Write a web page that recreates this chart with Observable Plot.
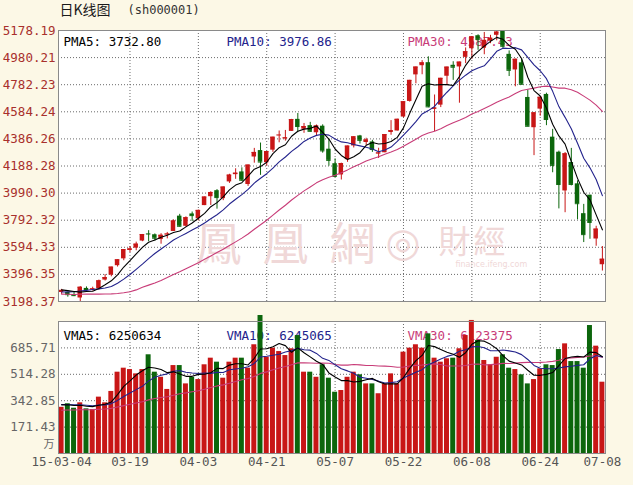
<!DOCTYPE html>
<html><head><meta charset="utf-8">
<script src="https://cdn.jsdelivr.net/npm/d3@7"></script>
<script src="https://cdn.jsdelivr.net/npm/@observablehq/plot@0.6"></script>
<style>
html,body{margin:0;padding:0;background:#fcf8e6;}
#chart{position:relative;width:633px;height:485px;overflow:hidden;background:#fcf8e6;}
#chart svg{position:absolute;left:0;display:block;}
</style></head>
<body><div id="chart"></div>
<script>
// ---- data (SSE Composite sh000001, 2015-03-04 .. 2015-07-08) ----
const opens = [3264,3264,3248,3224,3294,3284,3291,3355,3391,3460,3510,3571,3588,3640,3693,3686,3651,3686,3710,3822,3748,3838,3803,3899,3964,4008,3950,4072,4125,4145,4053,4254,4301,4212,4304,4413,4387,4441,4529,4457,4483,4431,4479,4311,4205,4123,4234,4335,4408,4360,4364,4277,4285,4433,4444,4546,4660,4854,4921,4943,4603,4633,4844,4924,4912,4982,5045,5140,5049,5100,5143,5174,5004,4890,4942,4689,4468,4604,4711,4399,4289,4006,4214,4058,3840,3975,3655,3467];
const highs = [3287,3266,3265,3307,3305,3303,3355,3395,3449,3503,3578,3600,3632,3688,3716,3692,3694,3703,3795,3835,3817,3852,3866,3961,4000,4016,4035,4128,4168,4175,4194.8,4317,4356,4293.6,4398.5,4444,4448,4529,4572,4499,4507,4488,4489,4386,4240,4209,4334,4402,4412,4391,4376,4318,4418,4520,4530,4658,4814,4911,4958,4986,4707,4829,4910.5,4950,4947.1,5051,5131.9,5147,5164,5143,5178.19,5176,5029,4969,4966,4744,4577,4691,4720,4456,4297,4287,4317,4080,3908,3975,3748,3600];
const lows = [3250,3230,3234,3198.37,3278,3275,3282,3348,3379,3450,3496,3556,3569,3635,3635,3640,3617,3656,3710,3742,3742,3783,3787,3899,3900,3873,3935,4061,4091,4076,4039,4209,4120,4188,4288,4358,4370,4441,4432,4427,4436,4404,4282,4187,4106,4086,4215,4320,4349,4339,4288,4243,4285,4413,4444,4541,4655,4789,4855,4614,4440,4615,4775,4814,4647,4936,4968,5034,5001,5082,5103,5048,4842,4767,4780,4476,4264,4552,4483,4139,3875,3847,4043,3795,3629,3653,3602,3421];
const closes = [3279.5,3248.5,3241.2,3302.4,3286.1,3290.9,3349.3,3372.9,3449.3,3502.9,3577.3,3582.3,3617.3,3687.7,3691.4,3660.7,3682.1,3691.1,3786.6,3747.9,3810.3,3825.8,3863.9,3961.4,3994.8,3957.5,4034.3,4121.7,4135.6,4084.2,4194.8,4287.3,4217.1,4293.6,4398.5,4414.5,4393.7,4527.4,4476.6,4476.2,4441.7,4480.5,4298.7,4229.3,4112.2,4205.9,4333.6,4401.2,4375.8,4378.3,4308.7,4283.5,4417.6,4446.3,4529.4,4657.6,4813.8,4910.9,4941.7,4620.3,4611.7,4828.7,4910.5,4910.0,4947.1,5023.1,5131.9,5113.5,5106.0,5121.6,5166.4,5063.0,4887.4,4967.9,4785.4,4478.4,4576.5,4690.2,4527.8,4192.9,4053.0,4277.2,4053.7,3912.8,3686.9,3775.9,3727.1,3507.2];
const ma5 = [3283,3278,3272,3267,3271.5,3273.8,3294,3320.3,3349.7,3393.1,3450.3,3496.9,3545.8,3593.5,3631.2,3647.9,3667.8,3682.6,3702.4,3713.7,3743.6,3772.3,3806.9,3841.9,3891.2,3920.7,3962.4,4013.9,4048.8,4066.7,4114.1,4164.7,4183.8,4215.4,4278.3,4322.2,4343.5,4405.5,4442.1,4457.7,4463.1,4480.5,4434.7,4385.3,4312.5,4265.3,4235.9,4256.4,4285.7,4339,4359.5,4349.5,4352.8,4366.9,4397.1,4466.9,4572.9,4671.6,4770.7,4788.9,4779.7,4782.7,4782.6,4776.2,4841.6,4923.9,4984.5,5025.1,5064.3,5099.2,5127.9,5114.1,5068.9,5041.3,4974,4836.4,4739.1,4699.7,4611.7,4493.2,4408.1,4348.2,4220.9,4097.9,3996.7,3941.3,3831.3,3722];
const ma10 = [3268,3269,3270,3275.5,3279.5,3285.7,3290.8,3297,3308.3,3332.3,3362.1,3395.5,3433.1,3471.6,3512.1,3549.1,3582.4,3614.2,3647.9,3672.4,3695.7,3720.1,3744.8,3772.1,3802.5,3832.1,3867.4,3910.4,3945.3,3979,4017.4,4063.6,4098.9,4132.1,4172.5,4218.2,4254.1,4294.7,4328.8,4368,4392.7,4412,4420.1,4413.7,4385.1,4364.2,4358.2,4345.6,4335.5,4325.7,4312.4,4292.7,4304.6,4326.3,4368,4413.2,4461.2,4512.2,4568.8,4593,4623.3,4677.8,4727.1,4773.5,4815.2,4851.8,4883.6,4903.9,4920.3,4970.4,5025.9,5049.3,5047,5052.8,5036.6,4982.2,4926.6,4884.3,4826.5,4733.6,4622.3,4543.7,4460.3,4354.8,4244.9,4174.7,4089.8,3971.5];
const ma30 = [3252,3251,3250,3251,3252,3252,3252,3253,3254,3257,3262,3269.7,3283.2,3301.9,3318.1,3334.3,3352.5,3373,3396.1,3416.3,3438,3459.8,3481.8,3506.4,3531.4,3555.6,3580.2,3607.2,3633.9,3661.2,3691.7,3726.4,3758.9,3791.9,3829,3866.5,3901.3,3939.8,3974,4006.5,4035.3,4065.2,4087.9,4106,4120,4138.2,4159.9,4183.6,4203.2,4224.2,4240.8,4256.1,4274.5,4290.7,4308.5,4331.9,4357.8,4384.2,4411,4428.9,4442.8,4460.8,4484,4504.5,4522.8,4543.1,4567.7,4587.2,4608.2,4629.7,4653.9,4673.3,4692.9,4717.5,4740,4749,4757.1,4766.8,4771.8,4765.7,4757.1,4756.9,4744.8,4727,4698.9,4669.5,4633.3,4586.5];
const volumes = [300,323,294,329,290,286,366,329,403,528,554,545,517,545,641,528,495,416,571,571,452,495,480,576,619,593,489,593,619,619,554,706,896,625,684,662,636,680,766,528,528,495,576,489,398,409,495,528,511,452,452,388,452,517,452,658,684,706,684,777,619,593,615,619,680,766,864,734,604,576,625,641,554,545,511,452,480,550,576,571,675,712,597,597,554,831,697,463];
const vma5 = [316,316.6,311.4,313.2,307.2,304.4,313,320,334.8,382.4,436,471.8,509.4,537.8,560.4,555.2,545.2,525,530.2,516.2,501,501,513.8,514.8,524.4,552.6,551.4,574,582.6,582.6,574.8,618.2,678.8,680,693,714.6,700.6,657.4,685.6,654.4,627.6,599.4,578.6,523.2,497.2,473.4,473.4,463.8,468.2,479,487.6,466.2,451,452.2,452.2,493.4,552.6,603.4,636.8,701.8,694,675.8,657.6,644.6,625.2,654.6,708.8,732.6,729.6,708.8,680.6,636,600,588.2,575.2,540.6,508.4,507.6,513.8,525.8,570.4,616.8,626.2,630.4,627,658.2,655.2,628.4];
const vma10 = [318,318.3,315.7,316.6,313.6,310.2,314.8,315.7,324,344.8,370.2,392.4,414.7,436.3,471.4,495.6,508.5,517.2,534,538.3,528.1,523.1,519.4,522.5,520.3,526.8,526.2,543.9,548.7,553.5,563.7,584.8,626.4,631.3,637.8,644.7,659.4,668.1,682.8,673.7,671.1,650,618,604.4,575.8,550.5,536.4,521.2,495.7,488.1,480.5,469.8,457.4,460.2,465.6,490.5,509.4,527.2,544.5,577,593.7,614.2,630.5,640.7,663.5,674.3,692.3,695.1,687.1,667,667.6,672.4,666.3,658.9,642,610.6,572.2,553.8,551,550.5,555.5,562.6,566.9,572.1,576.4,614.3,636,627.3];
const vma30 = [280.7,282.1,282.6,284.2,284.5,284.7,287.6,289.2,293.3,301.6,310.7,319.6,327.5,336.3,348.3,356.6,363.8,368.3,378,387.7,393.4,400.6,407.3,417.1,428.4,438.9,445.8,456.3,467.6,478.9,487.3,500.1,520.2,530,543.2,555.7,564.7,576.4,588.5,588.5,587.6,586,587.9,586.1,578,574,574,577.7,575.7,571.8,571.8,568.2,567.3,565.3,559.7,561.9,568.4,572.2,574.3,579.6,581.8,578,568.6,568.4,568.3,571.8,579.4,581.2,575.8,577.4,580.6,585.5,584.7,586.6,590.4,591.8,591.3,592,594.2,598.2,605.6,616.4,621.2,623.9,627.3,633.1,633.5,625.4];

const priceTickValues = [3198.37,3396.35,3594.33,3792.32,3990.30,4188.28,4386.26,4584.24,4782.23,4980.21,5178.19];
const priceTickLabels = ["3198.37","3396.35","3594.33","3792.32","3990.30","4188.28","4386.26","4584.24","4782.23","4980.21","5178.19"];
const volTickValues = [171.43,342.85,514.28,685.71];
const volTickLabels = ["171.43","342.85","514.28","685.71"];
const volMax = 857.14;
const volUnit = "万";
const dateTickIndex = [0,11,22,33,44,55,66,77,87];
const dateTickLabels = ["15-03-04","03-19","04-03","04-21","05-07","05-22","06-08","06-24","07-08"];
const titleMain = "日K线图";
const titleCode = "(sh000001)";
const priceLegendNames = ["PMA5:","PMA10:","PMA30:"];
const priceLegendValues = ["3732.80","3976.86","4587.43"];
const volLegendNames = ["VMA5:","VMA10:","VMA30:"];
const volLegendValues = ["6250634","6245065","6123375"];
const watermark = ["鳳","凰","網","◎","財","經","finance.ifeng.com"];

// ---- build ----
const N = closes.length;
const rows = closes.map((c, i) => ({
  i, o: opens[i], h: highs[i], l: lows[i], c, up: c >= opens[i],
  v: volumes[i], ma5: ma5[i], ma10: ma10[i], ma30: ma30[i],
  vma5: vma5[i], vma10: vma10[i], vma30: vma30[i]
}));
const upRows = rows.filter(d => d.up), downRows = rows.filter(d => !d.up);
const UP = "#c81616", DOWN = "#0c660c";
const C5 = "#000000", C10 = "#23238c", C30 = "#c83c78";
const mono = "'DejaVu Sans Mono', monospace";
const cjk = "'Noto Sans CJK SC', sans-serif";
const xDomain = [-0.5, N - 0.5];
const priceLabel = new Map(priceTickValues.map((v, k) => [v, priceTickLabels[k]]));
const volLabel = new Map(volTickValues.map((v, k) => [v, volTickLabels[k]]));
const dateLabel = new Map(dateTickIndex.map((v, k) => [v, dateTickLabels[k]]));
const dotted = {stroke: "#6a6a6a", strokeOpacity: 1, strokeDasharray: "1,2", strokeWidth: 1};
const legendDx = [5, 168, 349];
const legendColors = [C5, C10, C30];
const BW = 0.36, VW = 0.4;

function legend(names, values, dy) {
  return names.map((n, k) => Plot.text([n + " " + values[k]], {
    text: d => d, frameAnchor: "top-left", dx: legendDx[k], dy, textAnchor: "start",
    lineAnchor: "middle", fill: legendColors[k], fontFamily: mono, fontSize: 12.5
  }));
}

const wmStyle = {text: d => d, frameAnchor: "top-left", fill: "#f0d8d8", fontFamily: cjk, lineAnchor: "middle"};

const priceChart = Plot.plot({
  width: 633, height: 310,
  marginLeft: 58, marginRight: 28, marginTop: 30, marginBottom: 9,
  style: {background: "transparent", fontFamily: mono, fontSize: "12.5px", overflow: "visible"},
  x: {domain: xDomain, axis: null},
  y: {domain: [priceTickValues[0], priceTickValues[priceTickValues.length - 1]], axis: null},
  marks: [
    Plot.frame({fill: "white", stroke: null}),
    Plot.gridY(priceTickValues.slice(1, -1), dotted),
    Plot.gridX(dateTickIndex.slice(1, -1), dotted),
    Plot.text([watermark[0]], {...wmStyle, dx: 137, dy: 215, fontSize: 46}),
    Plot.text([watermark[1]], {...wmStyle, dx: 204, dy: 215, fontSize: 46}),
    Plot.text([watermark[2]], {...wmStyle, dx: 271, dy: 215, fontSize: 46}),
    Plot.text([watermark[3]], {...wmStyle, dx: 327, dy: 213, fontSize: 40, fontFamily: "'DejaVu Sans', sans-serif"}),
    Plot.text([watermark[4]], {...wmStyle, dx: 380, dy: 212, fontSize: 32}),
    Plot.text([watermark[5]], {...wmStyle, dx: 415, dy: 212, fontSize: 32}),
    Plot.text([watermark[6]], {...wmStyle, dx: 397, dy: 234, fontSize: 8, fontFamily: "'DejaVu Sans', sans-serif"}),
    Plot.axisY(priceTickValues, {tickSize: 0, tickPadding: 3, tickFormat: d => priceLabel.get(d), fill: "#a8302c", fontSize: 12.5, label: null}),
    Plot.text([titleMain], {text: d => d, frameAnchor: "top-left", dx: 1, dy: -20, textAnchor: "start", lineAnchor: "middle", fontFamily: cjk, fontSize: 14, fill: "#1a1a1a"}),
    Plot.text([titleCode], {text: d => d, frameAnchor: "top-left", dx: 69, dy: -20, textAnchor: "start", lineAnchor: "middle", fontFamily: mono, fontSize: 12, fill: "#333"}),
    ...legend(priceLegendNames, priceLegendValues, 11.5),
    Plot.ruleX(upRows, {x: "i", y1: "l", y2: "h", stroke: UP, strokeWidth: 1}),
    Plot.ruleX(downRows, {x: "i", y1: "l", y2: "h", stroke: DOWN, strokeWidth: 1}),
    Plot.rect(upRows, {x1: d => d.i - BW, x2: d => d.i + BW, y1: "o", y2: "c", fill: UP}),
    Plot.rect(downRows, {x1: d => d.i - BW, x2: d => d.i + BW, y1: "o", y2: "c", fill: DOWN}),
    Plot.ruleY(upRows, {y: "c", x1: d => d.i - BW, x2: d => d.i + BW, stroke: UP}),
    Plot.ruleY(downRows, {y: "c", x1: d => d.i - BW, x2: d => d.i + BW, stroke: DOWN}),
    Plot.lineY(rows, {x: "i", y: "ma30", stroke: C30, strokeWidth: 1.1}),
    Plot.lineY(rows, {x: "i", y: "ma10", stroke: C10, strokeWidth: 1.1}),
    Plot.lineY(rows, {x: "i", y: "ma5", stroke: C5, strokeWidth: 1.1}),
    Plot.frame({stroke: "#8a8a8a", fill: "none"})
  ]
});
priceChart.style.top = "0px";

const volumeChart = Plot.plot({
  width: 633, height: 175,
  marginLeft: 58, marginRight: 28, marginTop: 11, marginBottom: 32,
  style: {background: "transparent", fontFamily: mono, fontSize: "12.5px", overflow: "visible"},
  x: {domain: xDomain, axis: null},
  y: {domain: [0, volMax], axis: null},
  marks: [
    Plot.frame({fill: "white", stroke: null}),
    Plot.gridY(volTickValues, dotted),
    Plot.gridX(dateTickIndex.slice(1, -1), dotted),
    Plot.axisY(volTickValues, {tickSize: 0, tickPadding: 3, tickFormat: d => volLabel.get(d), fill: "#666", fontSize: 12.5, label: null}),
    Plot.text([volUnit], {text: d => d, frameAnchor: "bottom-left", dx: -4, dy: -9, textAnchor: "end", lineAnchor: "middle", fill: "#666", fontFamily: cjk, fontSize: 11}),
    Plot.axisX(dateTickIndex, {tickSize: 0, tickPadding: 4, tickFormat: d => dateLabel.get(d), fill: "#555", fontSize: 12.5, label: null}),
    ...legend(volLegendNames, volLegendValues, 14),
    Plot.rect(upRows, {x1: d => d.i - VW, x2: d => d.i + VW, y1: 0, y2: "v", fill: UP}),
    Plot.rect(downRows, {x1: d => d.i - VW, x2: d => d.i + VW, y1: 0, y2: "v", fill: DOWN}),
    Plot.lineY(rows, {x: "i", y: "vma30", stroke: C30, strokeWidth: 1.1}),
    Plot.lineY(rows, {x: "i", y: "vma10", stroke: C10, strokeWidth: 1.1}),
    Plot.lineY(rows, {x: "i", y: "vma5", stroke: C5, strokeWidth: 1.1}),
    Plot.frame({stroke: "#8a8a8a", fill: "none"})
  ]
});
volumeChart.style.top = "310px";

const root = document.getElementById("chart");
root.appendChild(priceChart);
root.appendChild(volumeChart);
</script>
</body></html>
